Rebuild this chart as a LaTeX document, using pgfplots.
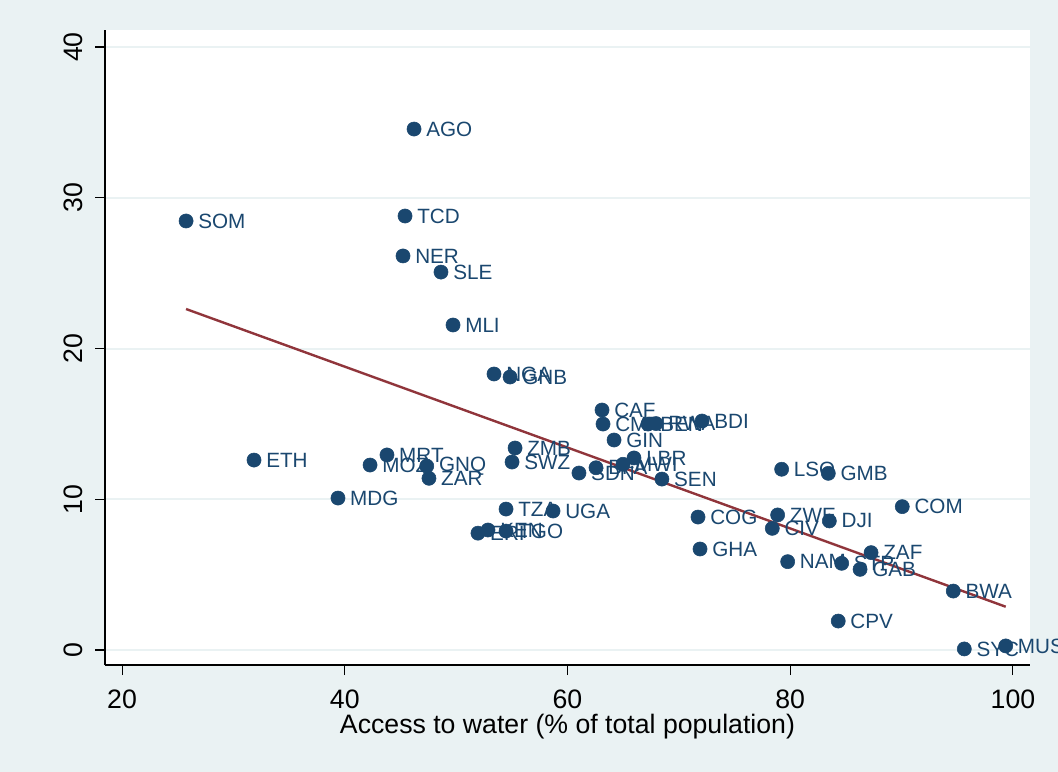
\documentclass[border=0pt]{standalone}
\usepackage{pgfplots}
\pgfplotsset{compat=1.18}
\usepackage{fontspec}
\setmainfont{Liberation Sans}
\definecolor{bgc}{RGB}{234,242,243}
\definecolor{navy}{RGB}{26,71,111}
\definecolor{maroon}{RGB}{144,53,59}
\pgfplotstableread{
lab x y
SOM 25.75 28.46
ETH 31.85 12.60
MDG 39.39 10.08
MOZ 42.27 12.27
MRT 43.79 12.94
NER 45.23 26.14
TCD 45.41 28.79
AGO 46.22 34.56
GNQ 47.36 12.20
ZAR 47.56 11.39
SLE 48.64 25.07
MLI 49.72 21.56
ERI 51.96 7.75
KEN 52.86 7.96
TGO 54.48 7.89
NGA 53.40 18.31
TZA 54.48 9.35
GNB 54.84 18.11
SWZ 55.02 12.47
ZMB 55.29 13.40
UGA 58.70 9.22
SDN 61.03 11.74
BFA 62.56 12.09
CAF 63.10 15.92
CMR 63.19 14.99
GIN 64.18 13.93
MWI 64.98 12.32
LBR 65.97 12.74
BEN 67.23 14.99
RWA 67.95 15.02
SEN 68.48 11.34
COG 71.72 8.82
GHA 71.90 6.70
BDI 72.08 15.19
CIV 78.39 8.07
ZWE 78.87 8.96
LSO 79.23 11.99
NAM 79.77 5.86
GMB 83.42 11.72
DJI 83.51 8.56
CPV 84.31 1.92
STP 84.62 5.75
GAB 86.27 5.35
ZAF 87.26 6.46
COM 90.06 9.51
BWA 94.64 3.91
SYC 95.63 0.07
MUS 99.35 0.27
}\datatable
\begin{document}
\begin{tikzpicture}
\fill[bgc] (0,0) rectangle (793.5pt,579pt);
\begin{axis}[
 at={(78.75pt,80.25pt)}, anchor=south west,
 scale only axis, width=693.75pt, height=476.25pt,
 xmin=18.47, xmax=101.53, ymin=-0.995, ymax=41.13,
 clip=false,
 axis x line*=bottom, axis y line*=left,
 axis line style={black, line width=0.8pt, -},
 axis background/.style={fill=white},
 xtick={20,40,60,80,100}, ytick={0,10,20,30,40},
 tick align=outside, major tick length=7.5pt,
 tick style={black, line width=0.8pt},
 ymajorgrids, major grid style={bgc, line width=1.5pt},
 /pgf/number format/assume math mode=true,
 ticklabel style={font=\fontsize{20pt}{23pt}\selectfont},
 xticklabel style={anchor=base},
 xticklabel shift=24.75pt,
 yticklabel style={rotate=90, anchor=base},
 yticklabel shift=9.75pt,
 xlabel={Access to water (\% of total population)},
 xlabel style={font=\fontsize{20pt}{23pt}\selectfont, at={(axis description cs:0.5,0)}, anchor=base, yshift=-51.5pt},
]
\addplot[only marks, mark=*, mark size=5.3pt, color=navy, mark options={fill=navy, draw=navy},
  nodes near coords, point meta=explicit symbolic,
  nodes near coords style={anchor=west, inner sep=0pt, xshift=9pt, text=navy, font=\fontsize{15.5pt}{18pt}\selectfont}]
  table[x=x, y=y, meta=lab]{\datatable};
\addplot[maroon, line width=1.8pt] coordinates {(25.75,22.62) (99.35,2.87)};
\end{axis}
\pgfresetboundingbox
\path (0,0) rectangle (793.5pt,579pt);
\end{tikzpicture}
\end{document}
